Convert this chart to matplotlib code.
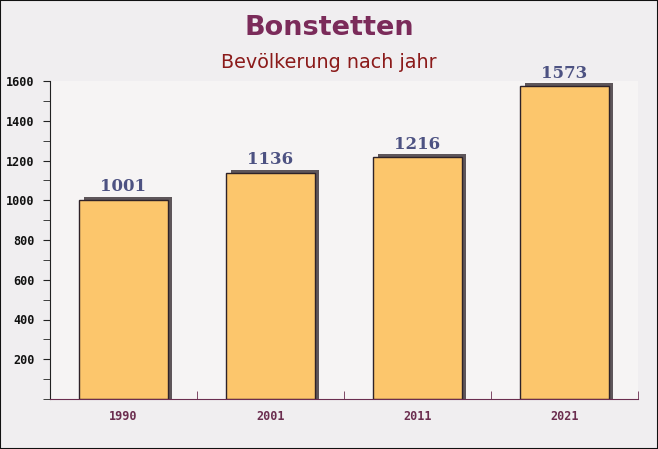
import matplotlib.pyplot as plt
import numpy as np
from matplotlib.ticker import MultipleLocator

jahre = ["1990", "2001", "2011", "2021"]
einwohner = [1001, 1136, 1216, 1573]

fig = plt.figure(figsize=(6.58, 4.49), dpi=100, facecolor="#f0eef0")
ax = fig.add_axes([50 / 658, 50 / 449, 588 / 658, 318 / 449])
ax.set_facecolor("#f6f4f4")

x = np.arange(len(jahre))
# schatten (leicht nach rechts/oben versetzt, bis zur achse)
ax.bar(x + 0.028, [v + 16 for v in einwohner], width=0.6, color="#5e565a", zorder=2)
ax.bar(x, einwohner, width=0.6, color="#fcc66c", edgecolor="#2e2228", linewidth=1.0, zorder=3)

for xi, v in zip(x, einwohner):
    ax.text(xi, v + 24, str(v), ha="center", va="bottom", fontsize=12,
            family="DejaVu Serif", fontweight="bold", color="#4d5282", zorder=4)

ax.set_xlim(-0.5, len(jahre) - 0.5)
ax.set_ylim(0, 1600)
ax.set_xticks(x)
ax.set_xticklabels(jahre, family="DejaVu Sans Mono", fontweight="bold", fontsize=8.5, color="#6b2d4f")
ax.set_xticks(np.arange(len(jahre) + 1) - 0.5, minor=True)
ax.tick_params(axis="x", which="major", length=0, pad=8)
ax.tick_params(axis="x", which="minor", direction="in", length=6, color="#6b2d4f")

ax.set_yticks([200, 400, 600, 800, 1000, 1200, 1400, 1600])
ax.yaxis.set_minor_locator(MultipleLocator(100))
for lab in ax.get_yticklabels():
    lab.set_family("DejaVu Sans Mono")
    lab.set_fontweight("bold")
    lab.set_fontsize(8.5)
ax.tick_params(axis="y", which="both", length=5, color="#222222", labelcolor="#111111", pad=6)

for s in ["top", "right"]:
    ax.spines[s].set_visible(False)
ax.spines["left"].set_color("#222222")
ax.spines["bottom"].set_color("#6b2d4f")
ax.spines["bottom"].set_zorder(5)

fig.text(0.5, 1 - 28 / 449, "Bonstetten", ha="center", va="center", fontsize=19.5,
         fontweight="bold", color="#7b2b5a")
fig.text(0.5, 1 - 63 / 449, "Bevölkerung nach jahr", ha="center", va="center",
         fontsize=13.8, color="#8b1a1a")

fig.patches.append(plt.Rectangle((0, 0), 1, 1, transform=fig.transFigure, fill=False,
                                 edgecolor="#111111", linewidth=1.5))

fig.savefig("out.png", dpi=100, facecolor=fig.get_facecolor())
